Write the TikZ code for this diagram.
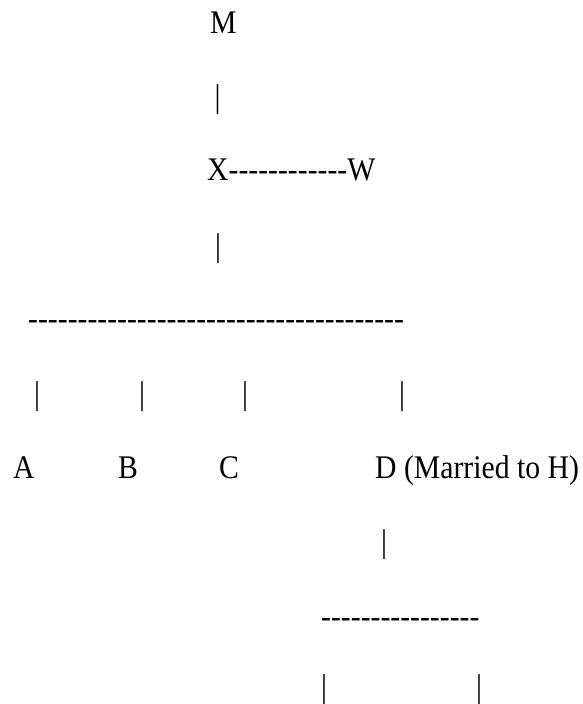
\documentclass[tikz,border=0pt]{standalone}
\usepackage{fontspec}
\setmainfont[FakeStretch=0.9,Ligatures=TeXOff]{Liberation Serif}
\usetikzlibrary{positioning}

\begin{document}
\begin{tikzpicture}[x=1pt,y=-1pt,
  txt/.style={inner sep=0pt,anchor=base west,font=\fontsize{33}{40}\selectfont},
  bar/.style={txt,anchor=base}]
\useasboundingbox (0,0) rectangle (583,704);

\node[txt] (M) at (210,33) {M};
\node[bar] (M1) at (217.5,107) {|};
\node[txt] (XW) at (207,180) {X------------W};
\node[bar] (X1) at (218,256) {|};
\node[txt] (L) at (28,329) {--------------------------------------};
\node[bar] (LA) at (37,404) {|};
\node[bar] (LB) at (142,404) {|};
\node[bar] (LC) at (245,404) {|};
\node[bar] (LD) at (402,404) {|};
\node[txt] (A) at (13,478) {A};
\node[txt] (B) at (118,478) {B};
\node[txt] (C) at (219,478) {C};
\node[txt] (D) at (375,478) {D (Married to H)};
\node[bar] (D1) at (384,552) {|};
\node[txt] (K) at (321,627) {----------------};
\node[bar] (K1) at (324,697) {|};
\node[bar] (K2) at (479,697) {|};
\end{tikzpicture}
\end{document}
